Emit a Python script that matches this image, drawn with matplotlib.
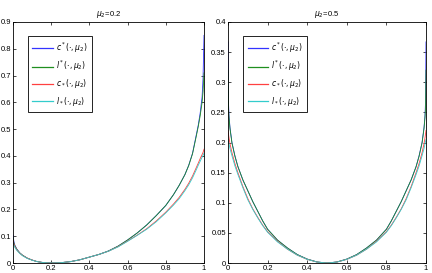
import matplotlib
matplotlib.use("Agg")
import matplotlib.pyplot as plt

# ---- data ----
# left panel, mu2 = 0.2
x_left = [0, 0.005, 0.01, 0.02, 0.035, 0.05, 0.075, 0.1, 0.125, 0.15, 0.175, 0.2,
          0.225, 0.25, 0.3, 0.35, 0.4, 0.45, 0.5, 0.55, 0.6, 0.65, 0.7, 0.75, 0.8,
          0.84, 0.87, 0.9, 0.92, 0.94, 0.96, 0.97, 0.98, 0.99, 0.995, 1]
cs_left = [0.105, 0.078, 0.066, 0.052, 0.038, 0.029, 0.018, 0.011, 0.0055, 0.0025,
           0.0007, 0.0, 0.0003, 0.0012, 0.005, 0.012, 0.022, 0.032, 0.045, 0.063,
           0.086, 0.112, 0.142, 0.177, 0.215, 0.255, 0.29, 0.33, 0.365, 0.41, 0.48,
           0.515, 0.56, 0.62, 0.69, 0.85]
ls_left = [0.095, 0.074, 0.064, 0.051, 0.038, 0.029, 0.018, 0.011, 0.0055, 0.0025,
           0.0007, 0.0, 0.0003, 0.0012, 0.005, 0.012, 0.022, 0.032, 0.045, 0.063,
           0.086, 0.112, 0.142, 0.177, 0.215, 0.255, 0.29, 0.33, 0.364, 0.408, 0.475,
           0.51, 0.55, 0.6, 0.64, 0.71]
cl_left = [0.085, 0.07, 0.061, 0.049, 0.037, 0.028, 0.018, 0.011, 0.0055, 0.0025,
           0.0007, 0.0, 0.0003, 0.0012, 0.005, 0.012, 0.022, 0.032, 0.044, 0.061,
           0.082, 0.104, 0.128, 0.157, 0.19, 0.22, 0.245, 0.275, 0.298, 0.325, 0.357,
           0.373, 0.39, 0.405, 0.413, 0.425]
ll_left = [0.075, 0.065, 0.058, 0.047, 0.036, 0.027, 0.017, 0.0105, 0.0053, 0.0024,
           0.0007, 0.0, 0.0003, 0.0012, 0.005, 0.012, 0.022, 0.032, 0.044, 0.06,
           0.081, 0.103, 0.126, 0.154, 0.187, 0.216, 0.24, 0.27, 0.292, 0.318, 0.349,
           0.365, 0.38, 0.395, 0.402, 0.41]

# right panel, mu2 = 0.5
x_right = [0, 0.002, 0.005, 0.01, 0.02, 0.035, 0.05, 0.075, 0.1, 0.125, 0.15, 0.175,
           0.2, 0.25, 0.3, 0.35, 0.4, 0.45, 0.5, 0.55, 0.6, 0.65, 0.7, 0.75, 0.8,
           0.825, 0.85, 0.875, 0.9, 0.925, 0.95, 0.965, 0.98, 0.99, 0.995, 0.998, 1]
cs_right = [0.367, 0.27, 0.245, 0.225, 0.2, 0.178, 0.16, 0.138, 0.12, 0.102, 0.086,
            0.07, 0.056, 0.038, 0.025, 0.014, 0.0065, 0.0017, 0.0, 0.0017, 0.0065,
            0.014, 0.025, 0.038, 0.056, 0.07, 0.086, 0.102, 0.12, 0.138, 0.16, 0.178,
            0.2, 0.225, 0.245, 0.27, 0.367]
ls_right = [0.32, 0.26, 0.242, 0.223, 0.199, 0.177, 0.16, 0.138, 0.12, 0.102, 0.086,
            0.07, 0.056, 0.038, 0.025, 0.014, 0.0065, 0.0017, 0.0, 0.0017, 0.0065,
            0.014, 0.025, 0.038, 0.056, 0.07, 0.086, 0.102, 0.12, 0.138, 0.16, 0.177,
            0.199, 0.223, 0.242, 0.26, 0.32]
cl_right = [0.22, 0.215, 0.208, 0.198, 0.183, 0.165, 0.15, 0.127, 0.107, 0.09, 0.076,
            0.063, 0.052, 0.036, 0.023, 0.013, 0.006, 0.0015, 0.0, 0.0015, 0.006,
            0.013, 0.023, 0.036, 0.052, 0.063, 0.076, 0.09, 0.107, 0.127, 0.15, 0.165,
            0.183, 0.198, 0.208, 0.215, 0.22]
ll_right = [0.205, 0.202, 0.198, 0.19, 0.178, 0.161, 0.147, 0.125, 0.105, 0.089,
            0.075, 0.062, 0.051, 0.035, 0.023, 0.013, 0.006, 0.0015, 0.0, 0.0015,
            0.006, 0.013, 0.023, 0.035, 0.051, 0.062, 0.075, 0.089, 0.105, 0.125,
            0.147, 0.161, 0.178, 0.19, 0.198, 0.202, 0.205]

labels = [r'$c^*(\cdot,\mu_2)$', r'$l^*(\cdot,\mu_2)$',
          r'$c_*(\cdot,\mu_2)$', r'$l_*(\cdot,\mu_2)$']
colors = ['#3333ff', '#1f8f1f', '#ff4040', '#33cccc']

plt.rcParams['font.family'] = ['Liberation Sans', 'DejaVu Sans']
plt.rcParams['mathtext.fontset'] = 'dejavusans'
FS = 5.5

fig = plt.figure(figsize=(4.32, 2.73), dpi=100)
ax1 = fig.add_axes([13/432, 10/273, 191/432, 241/273])
ax2 = fig.add_axes([228/432, 10/273, 198/432, 241/273])


def panel(ax, x, series, title, ymax, yticks, ylabels):
    for y, c, lab in zip(series, colors, labels):
        ax.plot(x, y, color=c, lw=0.6, label=lab)
    ax.set_xlim(0, 1)
    ax.set_ylim(0, ymax)
    ax.set_xticks([0, 0.2, 0.4, 0.6, 0.8, 1])
    ax.set_xticklabels(['0', '0.2', '0.4', '0.6', '0.8', '1'])
    ax.set_yticks(yticks)
    ax.set_yticklabels(ylabels)
    ax.tick_params(direction='in', top=True, right=True, labelsize=FS,
                   length=2.5, width=0.5, pad=1.5)
    for s in ax.spines.values():
        s.set_linewidth(0.6)
    ax.set_title(title, fontsize=FS, pad=4)
    leg = ax.legend(loc='upper left', bbox_to_anchor=(0.078, 0.942), fontsize=FS,
                    handlelength=2.7, labelspacing=0.55, borderpad=0.55,
                    fancybox=False, edgecolor='black', framealpha=1,
                    handletextpad=0.4, borderaxespad=0)
    leg.get_frame().set_linewidth(0.6)
    for h in leg.get_lines():
        h.set_linewidth(0.9)


panel(ax1, x_left, [cs_left, ls_left, cl_left, ll_left], r'$\mu_2$=0.2', 0.9,
      [0, 0.1, 0.2, 0.3, 0.4, 0.5, 0.6, 0.7, 0.8, 0.9],
      ['0', '0.1', '0.2', '0.3', '0.4', '0.5', '0.6', '0.7', '0.8', '0.9'])
panel(ax2, x_right, [cs_right, ls_right, cl_right, ll_right], r'$\mu_2$=0.5', 0.4,
      [0, 0.05, 0.1, 0.15, 0.2, 0.25, 0.3, 0.35, 0.4],
      ['0', '0.05', '0.1', '0.15', '0.2', '0.25', '0.3', '0.35', '0.4'])

fig.savefig('out.png', dpi=100)
